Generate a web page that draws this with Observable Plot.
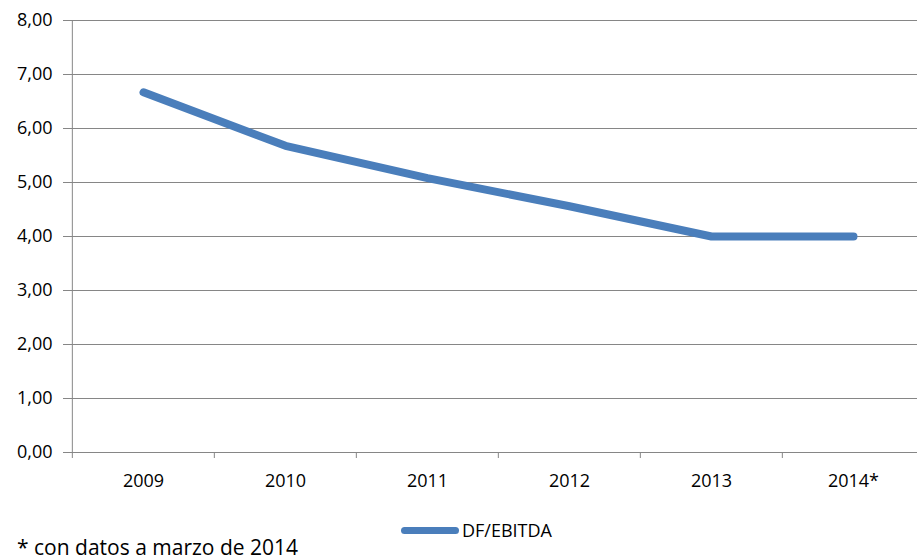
<!DOCTYPE html>
<html><head><meta charset="utf-8">
<script src="https://cdn.jsdelivr.net/npm/d3@7"></script>
<script src="https://cdn.jsdelivr.net/npm/@observablehq/plot@0.6"></script>
<style>
body{margin:0;background:#fff;font-family:"Open Sans",sans-serif;}
#wrap{position:relative;width:917px;height:560px;overflow:hidden;background:#fff;}
#legend{position:absolute;left:401px;top:518px;height:24px;display:flex;align-items:center;font-size:18px;color:#000;}
#legend .sw{display:inline-block;width:58px;height:7px;border-radius:3.5px;background:#4a7ebb;margin-right:3px;}
#caption{position:absolute;left:17px;top:533px;font-size:21px;line-height:normal;color:#000;white-space:nowrap;}
</style></head><body>
<div id="wrap"><div id="chart"></div>
<div id="legend"><span class="sw"></span><span id="lname"></span></div>
<div id="caption"></div></div>
<script>
const years = ["2009", "2010", "2011", "2012", "2013", "2014*"];
const ratio = [6.67, 5.68, 5.08, 4.56, 4.00, 4.00];
const yTicks = [0, 1, 2, 3, 4, 5, 6, 7, 8];
const seriesName = "DF/EBITDA";
const captionText = "* con datos a marzo de 2014";

const data = years.map((y, i) => ({year: y, value: ratio[i]}));
const xRange = [71, 925];
const step = (xRange[1] - xRange[0]) / years.length;

const plot = Plot.plot({
  width: 917, height: 500,
  marginLeft: 71, marginRight: 0, marginTop: 20, marginBottom: 48,
  style: {fontFamily: '"Open Sans", sans-serif', fontSize: "18px", color: "#000", background: "#fff", overflow: "hidden"},
  x: {type: "point", domain: years, range: xRange, padding: 0.5, axis: null, label: null},
  y: {domain: [0, 8], axis: null, label: null},
  marks: [
    Plot.gridY(yTicks, {stroke: "#868686", strokeOpacity: 1, strokeWidth: 1}),
    Plot.ruleX([years[0]], {x: d => d, dx: -step / 2, y1: 0, y2: 8, stroke: "#868686"}),
    Plot.axisY(yTicks, {tickSize: 8, tickPadding: 11, label: null, tickFormat: d => d.toFixed(2).replace(".", ","), stroke: "#868686", fill: "#000"}),
    Plot.axisX(years, {tickSize: 6, dx: -step / 2, label: null, tickFormat: () => "", stroke: "#868686"}),
    Plot.axisX(years, {tickSize: 0, tickPadding: 22, label: null, fill: "#000"}),
    Plot.line(data, {x: "year", y: "value", curve: "linear", stroke: "#4a7ebb", strokeWidth: 8, strokeLinecap: "round", strokeLinejoin: "round"})
  ]
});
document.getElementById("chart").appendChild(plot);
document.getElementById("lname").textContent = seriesName;
document.getElementById("caption").textContent = captionText;
</script>
</body></html>
